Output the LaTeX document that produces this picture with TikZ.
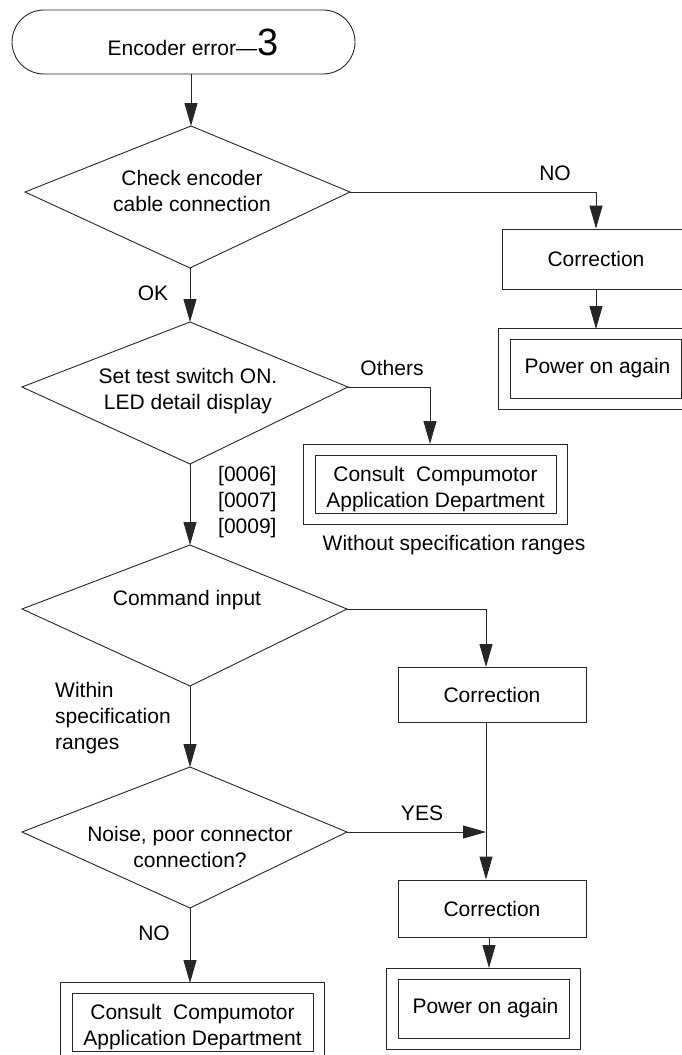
\documentclass[tikz,border=0pt]{standalone}
\usepackage{fontspec}
\setmainfont{Liberation Sans}
\usetikzlibrary{arrows.meta,shapes.misc}
\begin{document}
\begin{tikzpicture}[x=1pt,y=-1pt,
  font=\fontsize{21pt}{26pt}\selectfont,
  ln/.style={line width=0.9pt, draw=black!85},
  arr/.style={ln, -{Triangle[length=23pt,width=13pt]}},
  box/.style={draw=black!85, line width=0.9pt, minimum width=188pt, inner sep=0pt, align=center},
  ibox/.style={draw=black!85, line width=0.9pt, inner sep=0pt, align=center},
  lbl/.style={inner sep=0pt, align=center},
  lbll/.style={inner sep=0pt, align=left, anchor=west}
]
\clip (0,0) rectangle (682,1055);
\fill[white] (0,0) rectangle (682,1055);

% start terminal
\node[draw=black!85, line width=0.9pt, rounded rectangle, minimum width=343pt, minimum height=64pt, inner sep=0pt]
  (start) at (183.5,42) {\hspace*{19pt}Encoder error—{\fontsize{38pt}{38pt}\selectfont 3}};

% diamond 1
\coordinate (d1t) at (191,126);
\coordinate (d1l) at (25,192);
\coordinate (d1r) at (350,192);
\coordinate (d1b) at (190,268);
\draw[ln] (d1t) -- (d1r) -- (d1b) -- (d1l) -- cycle;
\node[lbl] (d1) at (192,191) {Check encoder\\cable connection};

% diamond 2
\coordinate (d2t) at (190,322);
\coordinate (d2l) at (22,387);
\coordinate (d2r) at (348,387);
\coordinate (d2b) at (190,464);
\draw[ln] (d2t) -- (d2r) -- (d2b) -- (d2l) -- cycle;
\node[lbl] (d2) at (188,391) {Set test switch ON.\\LED detail display};

% diamond 3
\coordinate (d3t) at (190,545);
\coordinate (d3l) at (22,609);
\coordinate (d3r) at (347,609);
\coordinate (d3b) at (190,686);
\draw[ln] (d3t) -- (d3r) -- (d3b) -- (d3l) -- cycle;
\node[lbl] (d3) at (187,600) {Command input};

% diamond 4
\coordinate (d4t) at (190,767);
\coordinate (d4l) at (22,832);
\coordinate (d4r) at (347,832);
\coordinate (d4b) at (190,908);
\draw[ln] (d4t) -- (d4r) -- (d4b) -- (d4l) -- cycle;
\node[lbl] (d4) at (190,846.5) {Noise, poor connector\\connection?};

% single boxes
\node[box, minimum height=60pt] (corr1) at (596,259) {Correction};
\node[box, minimum height=55pt] (corr2) at (492,694.5) {Correction};
\node[box, minimum height=57pt] (corr3) at (492,908.5) {Correction};

% double boxes: inner node + outer frame
\node[ibox, minimum width=171pt, minimum height=59pt] (pow1) at (595.5,368.5) {\hspace*{4pt}Power on again};
\node[ibox, minimum width=171pt, minimum height=59pt] (pow2) at (483.5,1008.5) {\hspace*{4pt}Power on again};
\node[ibox, minimum width=241pt, minimum height=58pt] (c1) at (435.5,484)
  {\rule{0pt}{25pt}Consult\ \ Compumotor\\Application Department};
\node[ibox, minimum width=241pt, minimum height=58pt] (c2) at (192.5,1022)
  {\rule{0pt}{25pt}Consult\ \ Compumotor\\Application Department};
\foreach \n in {pow1,pow2,c1,c2}{
  \draw[ln] ([shift={(-11pt,10.5pt)}]\n.north west) rectangle ([shift={(11pt,-10.5pt)}]\n.south east);
}

% entry points of double boxes and junction
\coordinate (p1in) at (596,329);
\coordinate (c1in) at (430,444);
\coordinate (k2) at (486,667);
\coordinate (jct) at (486,832);
\coordinate (p2in) at (489,968);
\coordinate (c2in) at (190,983);

% connectors
\draw[arr] (start.south -| d1t) -- (d1t);
\draw[arr] (d1r) -| (corr1.north);
\draw[arr] (corr1.south) -- (p1in);
\draw[arr] (d1b) -- (d2t);
\draw[arr] (d2r) -| (c1in);
\draw[arr] (d2b) -- (d3t);
\draw[arr] (d3r) -| (k2);
\draw[arr] (corr2.south -| k2) -- (corr3.north -| k2);
\draw[arr] (d3b) -- (d4t);
\draw[arr] (d4r) -- (jct);
\draw[arr] (corr3.south -| p2in) -- (p2in);
\draw[arr] (d4b) -- (c2in);

% labels
\node[lbl] (lno1) at (555,173) {NO};
\node[lbl] (lok) at (153,293) {OK};
\node[lbl] (loth) at (392,368) {Others};
\node[lbll] (lcodes) at (218,502) {{[0006]}\\{[0007]}\\{[0009]}};
\node[lbl] (lwo) at (454,545) {Without specification ranges};
\node[lbll] (lwi) at (55,718) {Within\\specification\\ranges};
\node[lbl] (lyes) at (422,813) {YES};
\node[lbl] (lno2) at (154,933) {NO};
\end{tikzpicture}
\end{document}
